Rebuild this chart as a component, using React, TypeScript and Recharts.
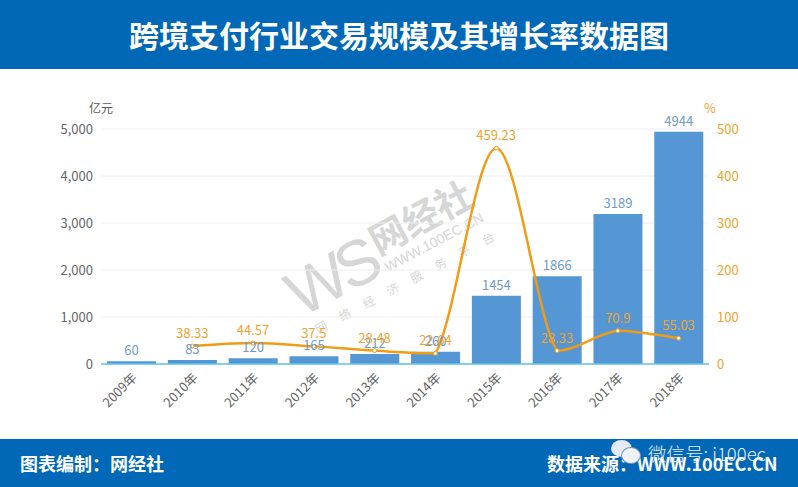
import React from "react";
import {
  ComposedChart,
  Bar,
  Line,
  XAxis,
  YAxis,
  CartesianGrid,
  LabelList,
} from "recharts";

const years = ["2009年", "2010年", "2011年", "2012年", "2013年", "2014年", "2015年", "2016年", "2017年", "2018年"];
const volume = [60, 83, 120, 165, 212, 260, 1454, 1866, 3189, 4944];
const growth = [null, 38.33, 44.57, 37.5, 28.48, 22.64, 459.23, 28.33, 70.9, 55.03];
const leftTicks = [0, 1000, 2000, 3000, 4000, 5000];
const rightTicks = [0, 100, 200, 300, 400, 500];

const data = years.map((name, i) => ({ name, volume: volume[i], growth: growth[i] }));

const FONT = '"Noto Sans CJK SC", "Noto Sans", sans-serif';
const LATIN = '"Liberation Sans", sans-serif';
const BLUE = "#0068b7";
const ORANGE = "#f09c14";

const clamp = (v: number, a: number, b: number) => Math.min(Math.max(v, Math.min(a, b)), Math.max(a, b));

// smooth line through the points, control points kept inside each segment so it never dips past a point
const smoothCurve = (ctx: any) => {
  let pts: number[][] = [];
  return {
    areaStart() {},
    areaEnd() {},
    lineStart() {
      pts = [];
    },
    point(x: number, y: number) {
      pts.push([+x, +y]);
    },
    lineEnd() {
      pts.forEach((p, i) => {
        if (i === 0) {
          ctx.moveTo(p[0], p[1]);
          return;
        }
        const p0 = pts[Math.max(i - 2, 0)];
        const p1 = pts[i - 1];
        const p3 = pts[Math.min(i + 1, pts.length - 1)];
        ctx.bezierCurveTo(
          p1[0] + (p[0] - p0[0]) / 6,
          clamp(p1[1] + (p[1] - p0[1]) / 6, p1[1], p[1]),
          p[0] - (p3[0] - p1[0]) / 6,
          clamp(p[1] - (p3[1] - p1[1]) / 6, p1[1], p[1]),
          p[0],
          p[1]
        );
      });
    },
  };
};

const box = (left: number, top: number, extra: React.CSSProperties = {}): React.CSSProperties => ({
  position: "absolute",
  left,
  top,
  whiteSpace: "nowrap",
  fontFamily: FONT,
  ...extra,
});

// rotated watermark piece, placed by its centre
const mark = (cx: number, cy: number, extra: React.CSSProperties): React.CSSProperties =>
  box(cx, cy, { transform: "translate(-50%, -50%) rotate(-28deg)", color: "#d6d6d6", lineHeight: 1, ...extra });

const Watermark = () => (
  <>
    <div style={mark(331, 277, { fontSize: 64, fontFamily: LATIN, letterSpacing: -6 })}>WS</div>
    <div style={mark(420, 216, { fontSize: 37, fontWeight: 700 })}>网经社</div>
    <div style={mark(434, 242, { fontSize: 14, fontFamily: LATIN })}>WWW.100EC.CN</div>
    <div style={mark(411, 279, { fontSize: 12, letterSpacing: 15 })}>网络经济服务平台</div>
  </>
);

export default function App() {
  return (
    <div style={{ position: "fixed", left: 0, top: 0, width: 798, height: 487, background: "#fff", overflow: "hidden" }}>
      <div style={box(0, 0, { width: 798, height: 69, background: BLUE })} />
      <div style={box(0, 13, { width: 798, textAlign: "center", color: "#fff", fontSize: 30, fontWeight: 700, lineHeight: "42px" })}>
        跨境支付行业交易规模及其增长率数据图
      </div>

      <Watermark />

      <div style={box(89, 99, { fontSize: 12, color: "#595959" })}>亿元</div>
      <div style={box(704, 98, { fontSize: 13, color: "#eda32f" })}>%</div>

      <div style={{ position: "absolute", left: 0, top: 0 }}>
        <ComposedChart
          width={798}
          height={487}
          data={data}
          barCategoryGap="10%"
          margin={{ top: 129, right: 49, left: 61, bottom: 63 }}
        >
          <CartesianGrid yAxisId="left" vertical={false} stroke="#eeeeee" />
          <XAxis
            dataKey="name"
            interval={0}
            height={60}
            angle={-45}
            textAnchor="end"
            tickLine={false}
            axisLine={{ stroke: "#5cc6e6", strokeWidth: 1.5 }}
            tick={{ fontSize: 13, fill: "#666666", fontFamily: FONT }}
          />
          <YAxis
            yAxisId="left"
            width={40}
            domain={[0, 5000]}
            ticks={leftTicks}
            tickFormatter={(v) => v.toLocaleString("en-US")}
            tickLine={false}
            axisLine={false}
            tickMargin={2}
            tick={{ fontSize: 13, fill: "#666666", fontFamily: FONT }}
          />
          <YAxis
            yAxisId="right"
            orientation="right"
            width={40}
            domain={[0, 500]}
            ticks={rightTicks}
            tickLine={false}
            axisLine={false}
            tickMargin={2}
            tick={{ fontSize: 13, fill: "#eda32f", fontFamily: FONT }}
          />
          <Bar yAxisId="left" dataKey="volume" fill="#5596d4" isAnimationActive={false}>
            <LabelList dataKey="volume" position="top" offset={6} fill="#6f9bc8" fontSize={13} fontFamily={FONT} />
          </Bar>
          <Line
            yAxisId="right"
            dataKey="growth"
            type={smoothCurve as any}
            stroke={ORANGE}
            strokeWidth={2.5}
            dot={{ r: 2, fill: "#fff", stroke: ORANGE, strokeWidth: 1 }}
            isAnimationActive={false}
          >
            <LabelList dataKey="growth" position="top" offset={8} fill="#eda32f" fontSize={13} fontFamily={FONT} />
          </Line>
        </ComposedChart>
      </div>

      <div style={box(0, 439, { width: 798, height: 48, background: BLUE })} />
      <div style={box(20, 450, { color: "#fff", fontSize: 18, fontWeight: 700 })}>图表编制：网经社</div>
      <div style={box(547, 450, { color: "#fff", fontSize: 18, fontWeight: 700 })}>数据来源：WWW.100EC.CN</div>

      <div style={box(611, 440, { width: 21, height: 17, borderRadius: "50%", background: "#e4ebf5" })} />
      <div style={box(621, 447, { width: 18, height: 15, borderRadius: "50%", background: "#eef2f8", border: "1px solid #6f8fb5" })} />
      <div style={box(648, 440, { color: "#e8eef6", fontSize: 18.5, fontWeight: 300, lineHeight: "26px" })}>微信号: i100ec</div>
    </div>
  );
}
